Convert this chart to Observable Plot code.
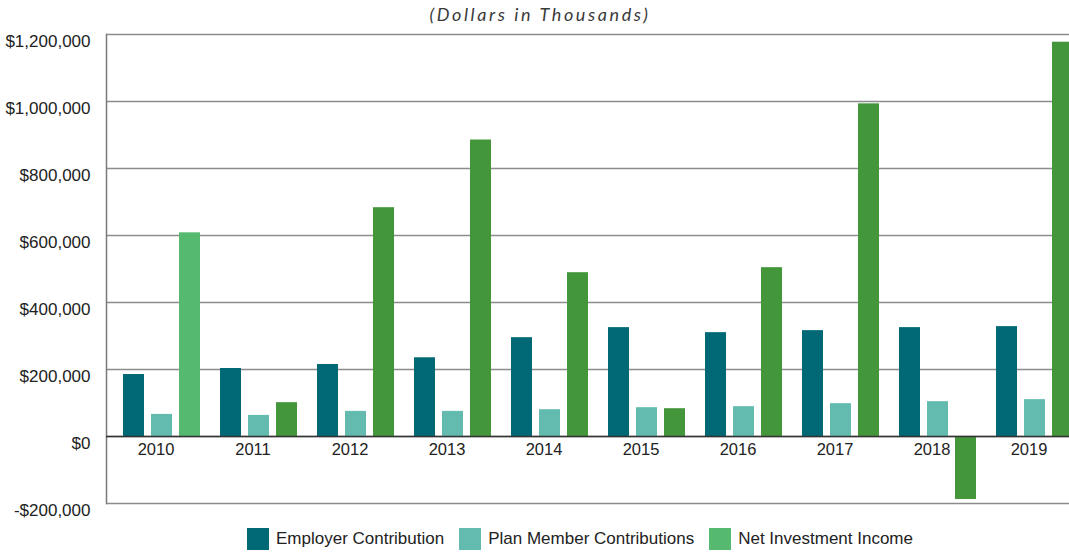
<!DOCTYPE html>
<html>
<head>
<meta charset="utf-8">
<script src="https://cdn.jsdelivr.net/npm/d3@7"></script>
<script src="https://cdn.jsdelivr.net/npm/@observablehq/plot@0.6"></script>
<style>
  html, body { margin: 0; background: #fff; font-family: "Liberation Sans", Arial, sans-serif; overflow: hidden; }
  #title { height: 28px; line-height: 28px; text-align: center; padding-left: 11px; font-family: Lato, "DejaVu Sans", sans-serif; font-style: italic; font-size: 18px; letter-spacing: 2.6px; color: #3a3a3a; }
  #chart { width: 1069px; overflow: hidden; }
  #legend { display: flex; align-items: center; margin-left: 247px; margin-top: 5px; font-size: 17px; color: #222; }
  .item { display: flex; align-items: center; margin-right: 15px; }
  .sw { width: 22px; height: 22px; margin-right: 7px; }
</style>
</head>
<body>
<div id="title">(Dollars in Thousands)</div>
<div id="chart"></div>
<div id="legend"></div>
<script>
const years = ["2010","2011","2012","2013","2014","2015","2016","2017","2018","2019"];
const seriesNames = ["Employer Contribution", "Plan Member Contributions", "Net Investment Income"];
const employer = [185000, 203000, 215000, 235000, 295000, 325000, 310000, 316000, 325000, 328000];
const planMember = [66000, 63000, 75000, 75000, 80000, 86000, 89000, 98000, 104000, 110000];
const netInvestment = [608000, 101000, 683000, 885000, 489000, 83000, 504000, 993000, -188000, 1177000];
const yTicks = [-200000, 0, 200000, 400000, 600000, 800000, 1000000, 1200000];

const colors = ["#006975", "#63bbaf", "#43963a"];
const legendColors = ["#006975", "#63bbaf", "#55ba6f"];
const highlightNet = "#55ba6f";

const rows = [];
years.forEach((y, i) => {
  rows.push({year: y, series: seriesNames[0], value: employer[i]});
  rows.push({year: y, series: seriesNames[1], value: planMember[i]});
  rows.push({year: y, series: seriesNames[2], value: netInvestment[i]});
});

const fmt = v => (v < 0 ? "-$" : "$") + d3.format(",")(Math.abs(v));

const chart = Plot.plot({
  width: 1069,
  height: 495,
  marginLeft: 105,
  marginRight: -7,
  marginTop: 6,
  marginBottom: 20,
  style: {fontFamily: "'Liberation Sans', Arial, sans-serif", fontSize: "16px", color: "#222", background: "#fff", overflow: "hidden"},
  fx: {domain: years, padding: 0, axis: null},
  x: {domain: seriesNames, paddingInner: 0.25, paddingOuter: 0.345, align: 0.85, axis: null},
  y: {domain: [-200000, 1200000], ticks: yTicks, tickFormat: fmt, label: null, axis: null},
  marks: [
    Plot.ruleY(yTicks, {stroke: "#8c8c8c", strokeWidth: 1.5}),
    Plot.frame({anchor: "left", facetAnchor: "left", stroke: "#7a7a7a", strokeWidth: 1.5}),
    Plot.axisY({ticks: yTicks, tickFormat: fmt, tickSize: 0, tickPadding: 16, dy: 7, fill: "#222", fontSize: 17, label: null}),
    Plot.barY(rows, {
      fx: "year", x: "series", y: "value",
      fill: d => (d.series === seriesNames[2] && d.year === "2010") ? highlightNet : colors[seriesNames.indexOf(d.series)]
    }),
    Plot.ruleY([0], {stroke: "#333", strokeWidth: 1.5}),
    Plot.text(years, {fx: d => d, y: () => 0, text: d => d, dy: 13, dx: 1, fill: "#222", fontSize: 16.5})
  ]
});
document.getElementById("chart").appendChild(chart);

const legend = document.getElementById("legend");
seriesNames.forEach((s, i) => {
  const it = document.createElement("div");
  it.className = "item";
  const sw = document.createElement("div");
  sw.className = "sw";
  sw.style.background = legendColors[i];
  const t = document.createElement("span");
  t.textContent = s;
  it.appendChild(sw); it.appendChild(t);
  legend.appendChild(it);
});
</script>
</body>
</html>
